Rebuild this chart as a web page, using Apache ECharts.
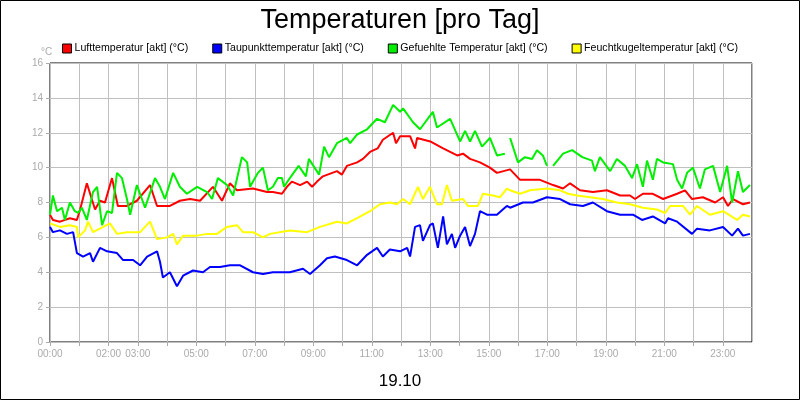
<!DOCTYPE html>
<html>
<head>
<meta charset="utf-8">
<script src="https://cdn.jsdelivr.net/npm/echarts@6/dist/echarts.min.js"></script>
<style>html,body{margin:0;padding:0;background:#fff}#main{width:800px;height:400px}</style>
</head>
<body>
<div id="main"></div>
<script>
// [hour, value]
var luft = [[0,7.3],[.1,7.0],[.34,6.9],[.68,7.1],[.92,7.0],[1.03,7.6],[1.26,9.1],[1.54,7.6],[1.71,8.1],[1.88,8.0],[2.12,9.4],[2.32,7.8],[2.63,7.8],[2.97,8.1],[3.42,9.0],[3.66,7.8],[4.1,7.8],[4.44,8.1],[4.79,8.2],[5.13,8.1],[5.57,8.9],[5.88,8.1],[6.15,9.1],[6.39,8.7],[6.94,8.8],[7.42,8.6],[7.62,8.6],[7.93,8.5],[8.1,8.9],[8.27,9.2],[8.55,9.0],[8.79,9.2],[8.96,8.9],[9.13,9.2],[9.33,9.5],[9.81,9.8],[9.98,9.6],[10.15,10.1],[10.5,10.3],[10.7,10.5],[10.94,10.9],[11.2,11.1],[11.38,11.6],[11.73,12.0],[11.83,11.4],[11.97,11.8],[12.31,11.8],[12.48,11.1],[12.55,11.7],[13.0,11.5],[13.44,11.1],[13.92,10.7],[14.12,10.8],[14.36,10.5],[14.7,10.3],[15.04,10.0],[15.28,9.7],[15.73,9.9],[16.07,9.3],[16.75,9.3],[17.2,9.0],[17.54,8.8],[17.78,9.1],[18.12,8.7],[18.56,8.6],[19.04,8.7],[19.49,8.4],[19.83,8.4],[20.0,8.2],[20.27,8.5],[20.61,8.5],[20.96,8.2],[21.44,8.5],[21.71,8.7],[21.95,8.2],[22.32,8.3],[22.74,8.0],[23.01,8.3],[23.18,7.8],[23.35,8.2],[23.69,7.9],[23.93,8.0]];
var taupunkt = [[0,6.6],[.1,6.3],[.34,6.4],[.58,6.2],[.79,6.3],[.92,5.1],[1.13,4.9],[1.37,5.1],[1.47,4.6],[1.71,5.4],[1.95,5.2],[2.29,5.1],[2.5,4.7],[2.84,4.7],[3.08,4.4],[3.32,4.9],[3.66,5.2],[3.76,4.6],[3.86,3.7],[4.1,4.0],[4.34,3.2],[4.55,3.8],[4.89,4.1],[5.23,4.0],[5.47,4.3],[5.81,4.3],[6.15,4.4],[6.5,4.4],[6.94,4.0],[7.28,3.9],[7.62,4.0],[8.2,4.0],[8.65,4.2],[8.89,3.9],[9.23,4.4],[9.47,4.8],[9.74,4.9],[10.15,4.7],[10.5,4.4],[10.84,5.0],[11.18,5.4],[11.38,4.9],[11.62,5.3],[11.97,5.2],[12.21,5.4],[12.31,4.9],[12.48,6.6],[12.65,6.7],[12.75,5.8],[12.99,6.7],[13.09,6.8],[13.26,5.4],[13.44,7.2],[13.57,5.6],[13.74,6.2],[13.85,5.4],[14.02,6.1],[14.19,6.6],[14.36,5.5],[14.53,6.2],[14.7,7.5],[14.94,7.3],[15.28,7.3],[15.48,7.6],[15.62,7.8],[15.73,7.7],[16.17,8.0],[16.51,8.0],[16.99,8.3],[17.44,8.2],[17.78,7.9],[18.22,7.8],[18.56,8.0],[19.04,7.5],[19.49,7.3],[19.93,7.3],[20.24,7.0],[20.61,7.2],[21.03,6.8],[21.13,7.1],[21.44,6.9],[21.95,6.2],[22.12,6.5],[22.56,6.4],[23.01,6.6],[23.32,6.1],[23.52,6.5],[23.69,6.1],[23.93,6.2]];
var gefuehlt = [[0,7.3],[.1,8.4],[.24,7.5],[.41,7.7],[.51,7.0],[.68,8.0],[.85,7.5],[.96,7.4],[1.09,7.7],[1.26,7.0],[1.47,8.6],[1.61,8.9],[1.71,7.6],[1.78,6.7],[1.95,7.5],[2.12,7.4],[2.29,9.7],[2.46,9.4],[2.63,8.2],[2.74,7.3],[2.97,9.0],[3.25,7.7],[3.59,9.4],[3.76,8.9],[3.93,8.2],[4.21,9.7],[4.44,8.9],[4.68,8.5],[5.03,8.9],[5.37,8.6],[5.54,8.2],[5.74,9.4],[6.05,9.0],[6.26,8.4],[6.56,10.6],[6.74,10.3],[6.84,8.9],[7.11,9.7],[7.28,10.0],[7.45,8.7],[7.62,8.9],[7.79,9.4],[7.93,9.4],[8.0,8.9],[8.2,9.4],[8.5,10.1],[8.75,9.5],[8.85,10.5],[9.2,9.6],[9.37,11.2],[9.54,10.6],[9.81,11.4],[10.15,11.7],[10.26,11.4],[10.5,11.9],[10.84,12.2],[11.18,12.8],[11.45,12.6],[11.73,13.6],[11.97,13.2],[12.07,13.4],[12.41,12.6],[12.65,12.2],[13.09,13.2],[13.23,12.3],[13.68,12.8],[14.02,11.5],[14.19,12.1],[14.36,11.5],[14.53,12.1],[14.77,11.2],[15.04,11.7],[15.28,10.7],[15.55,10.8],[15.6,null],[15.73,11.7],[16.0,10.3],[16.24,10.6],[16.48,10.5],[16.65,11.0],[16.85,10.7],[16.99,10.1],[17.05,null],[17.2,10.1],[17.54,10.8],[17.85,11.0],[18.2,10.6],[18.53,10.4],[18.63,9.8],[18.8,10.6],[19.15,9.8],[19.38,10.5],[19.66,10.1],[19.9,9.4],[20.07,10.2],[20.27,8.9],[20.41,10.4],[20.61,9.3],[20.75,10.5],[20.96,10.3],[21.3,10.2],[21.44,9.3],[21.61,8.8],[21.78,9.7],[21.98,10.0],[22.22,8.8],[22.39,9.9],[22.67,10.1],[22.91,8.6],[23.15,10.1],[23.32,8.0],[23.52,9.8],[23.69,8.6],[23.93,9.0]];
var feucht = [[0,6.8],[.34,6.6],[.68,6.7],[.92,6.6],[.96,6.0],[1.2,6.4],[1.3,6.9],[1.47,6.3],[2.05,6.8],[2.29,6.2],[2.63,6.3],[3.08,6.3],[3.42,6.9],[3.66,5.9],[4.0,6.0],[4.21,6.2],[4.34,5.6],[4.55,6.1],[5.03,6.1],[5.37,6.2],[5.71,6.2],[6.05,6.6],[6.39,6.7],[6.6,6.3],[6.94,6.3],[7.28,6.0],[7.52,6.2],[8.2,6.4],[8.79,6.3],[9.23,6.6],[9.81,6.9],[10.15,6.8],[10.5,7.1],[10.94,7.5],[11.28,7.9],[11.62,8.0],[11.86,7.9],[12.07,8.2],[12.31,7.9],[12.58,8.9],[12.75,8.2],[12.99,8.9],[13.23,7.9],[13.4,7.9],[13.57,9.0],[13.74,8.1],[14.12,8.2],[14.29,7.8],[14.63,7.8],[14.8,8.5],[15.14,8.4],[15.38,8.3],[15.62,8.8],[15.73,8.7],[16.07,8.5],[16.41,8.7],[16.99,8.8],[17.44,8.7],[17.71,8.5],[18.02,8.4],[18.46,8.3],[18.9,8.2],[19.38,8.0],[19.83,7.9],[20.27,7.7],[20.75,7.6],[21.03,7.4],[21.2,7.8],[21.64,7.8],[21.88,7.3],[22.12,7.8],[22.56,7.3],[23.01,7.5],[23.49,7.0],[23.69,7.3],[23.93,7.2]];
var seriesNames = ['Lufttemperatur [akt] (°C)', 'Taupunkttemperatur [akt] (°C)', 'Gefuehlte Temperatur [akt] (°C)', 'Feuchtkugeltemperatur [akt] (°C)'];
var seriesColors = ['#ff0000', '#0000ff', '#00ee00', '#ffff00'];
var xTickHours = [0, 2, 3, 5, 7, 9, 11, 13, 15, 17, 19, 21, 23];

var myChart = echarts.init(document.getElementById('main'));
var allData = [luft, taupunkt, gefuehlt, feucht];
var fontFam = '"Liberation Sans", Arial, sans-serif';

function pad(n) { return (n < 10 ? '0' : '') + n; }

var option = {
    backgroundColor: '#fff',
    animation: false,
    textStyle: { fontFamily: fontFam },
    title: [
        { text: 'Temperaturen [pro Tag]', left: 'center', top: 2,
          textStyle: { fontSize: 27, fontWeight: 'normal', color: '#000', fontFamily: fontFam } },
        { text: '19.10', left: 'center', top: 368,
          textStyle: { fontSize: 17, fontWeight: 'normal', color: '#000', fontFamily: fontFam } },
        { text: '°C', left: 36, top: 42,
          textStyle: { fontSize: 10, fontWeight: 'normal', color: '#aaa', fontFamily: fontFam } }
    ],
    legend: {
        data: seriesNames,
        top: 38, left: 57,
        itemWidth: 9, itemHeight: 9, itemGap: 24,
        icon: 'rect',
        itemStyle: { borderColor: '#000', borderWidth: 1 },
        textStyle: { fontSize: 10.6, color: '#000', fontFamily: fontFam, padding: [0, 0, 0, -2] }
    },
    graphic: [{
        type: 'rect', shape: { x: 0.5, y: 0.5, width: 799, height: 399 },
        style: { fill: 'none', stroke: '#000', lineWidth: 1 }, silent: true
    }],
    grid: { left: 50, right: 48, top: 63, bottom: 58, show: true, borderColor: '#000', borderWidth: 1 },
    xAxis: {
        type: 'value', min: 0, max: 24, interval: 1,
        axisLine: { show: false },
        axisTick: { show: true, length: 4, lineStyle: { color: '#aaa' } },
        axisLabel: {
            color: '#aaa', fontSize: 10, margin: 7, showMaxLabel: false,
            formatter: function (v) { return xTickHours.indexOf(v) >= 0 ? pad(v) + ':00' : ''; }
        },
        splitLine: { show: true, lineStyle: { color: '#c0c0c0', width: 1 } }
    },
    yAxis: {
        type: 'value', min: 0, max: 16, interval: 2,
        axisLine: { show: false },
        axisTick: { show: true, length: 4, lineStyle: { color: '#aaa' } },
        axisLabel: { color: '#aaa', fontSize: 10, margin: 7 },
        splitLine: { show: true, lineStyle: { color: '#c0c0c0', width: 1 } }
    },
    series: allData.map(function (d, i) {
        return {
            name: seriesNames[i], type: 'line', data: d,
            showSymbol: false, connectNulls: false,
            color: seriesColors[i],
            lineStyle: { width: 2, color: seriesColors[i] }
        };
    })
};
myChart.setOption(option);
</script>
</body>
</html>
